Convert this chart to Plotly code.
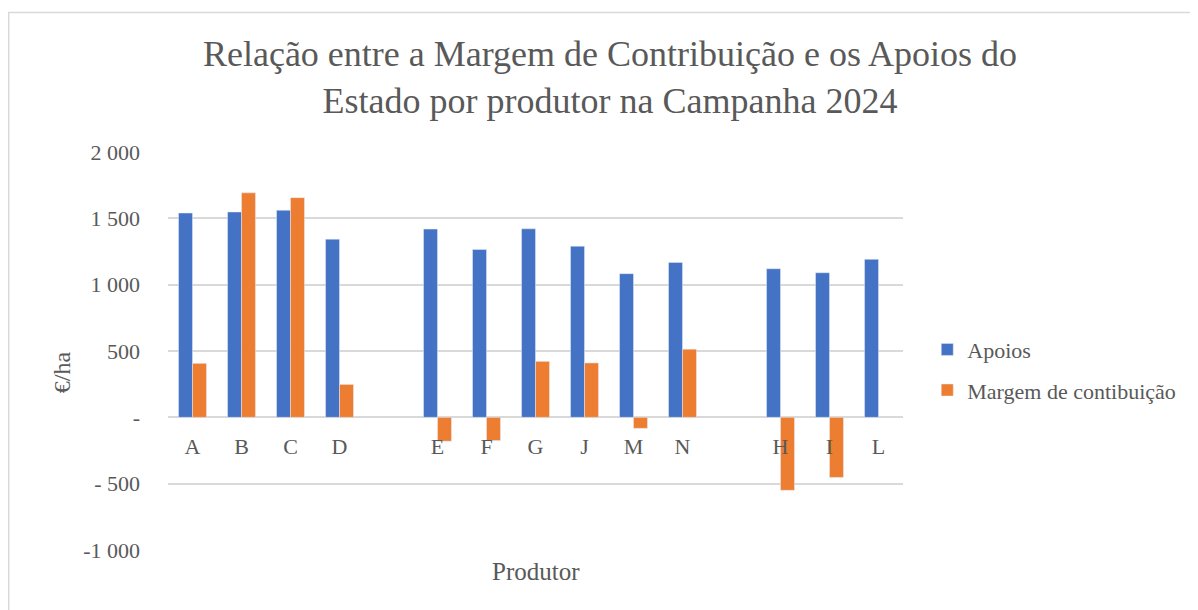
import plotly.graph_objects as go

# Producers (blank entries are the gaps between the three groups)
produtores = ["A", "B", "C", "D", " ", "E", "F", "G", "J", "M", "N", "  ", "H", "I", "L"]

apoios = [1540, 1548, 1561, 1343, None, 1419, 1265, 1421, 1290, 1083, 1168, None, 1120, 1090, 1191]
margem = [407, 1692, 1656, 248, None, -180, -175, 422, 410, -83, 514, None, -550, -453, None]

y_ticks = [2000, 1500, 1000, 500, 0, -500, -1000]
y_tick_labels = ["2 000", "1 500", "1 000", "500", "-", "- 500", "-1 000"]

grey = "#595959"
font_family = "Liberation Serif, Times New Roman, serif"

fig = go.Figure()
fig.add_trace(go.Bar(x=produtores, y=apoios, name="Apoios", marker_color="#4472C4",
                     legendgroup="a"))
fig.add_trace(go.Bar(x=produtores, y=margem, name="Margem de contibuição", marker_color="#ED7D31",
                     legendgroup="b"))

# page body has an 8px margin, so the figure is a bit smaller than the window
fig.update_layout(
    width=1190,
    height=602,
    margin=dict(l=160, r=295, t=144, b=60),
    paper_bgcolor="white",
    plot_bgcolor="white",
    font=dict(family=font_family, color=grey, size=22),
    barmode="group",
    bargap=0.43,
    bargroupgap=0,
    title=dict(
        text="Relação entre a Margem de Contribuição e os Apoios do<br>Estado por produtor na Campanha 2024",
        x=602 / 1190,
        xanchor="center",
        y=1 - 58 / 602,
        yanchor="middle",
        font=dict(size=36, color=grey, family=font_family),
    ),
    legend=dict(
        x=1.033,
        y=0.452,
        xanchor="left",
        yanchor="middle",
        font=dict(size=22),
        tracegroupgap=9,
        itemwidth=30,
    ),
    showlegend=True,
)

fig.update_yaxes(
    range=[-1000, 2000],
    tickvals=y_ticks,
    ticktext=y_tick_labels,
    showgrid=True,
    gridcolor="#d9d9d9",
    gridwidth=1.5,
    zeroline=False,
    showline=False,
    ticks="",
    ticklabelstandoff=27,
    tickfont=dict(size=22),
)

fig.update_xaxes(
    type="category",
    categoryorder="array",
    categoryarray=produtores,
    anchor="free",
    position=1 / 3,
    showline=False,
    showgrid=False,
    ticks="",
    ticklabelstandoff=14,
    tickfont=dict(size=22),
)

# axis titles as annotations (Excel style)
fig.add_annotation(text="€/ha", xref="paper", yref="paper", x=-0.144, y=0.447,
                   xanchor="center", yanchor="middle",
                   showarrow=False, textangle=-90, font=dict(size=24, color=grey))
fig.add_annotation(text="Produtor", xref="paper", yref="paper", x=0.5007, y=-0.053,
                   xanchor="center", yanchor="middle",
                   showarrow=False, font=dict(size=25, color=grey))

# chart area border
fig.add_shape(type="rect", xref="paper", yref="paper",
              x0=(8.7 - 168) / 735, x1=(1215 - 168) / 735,
              y0=(550 - 630) / 398, y1=(550 - 12.5) / 398,
              line=dict(color="#d9d9d9", width=1.5), fillcolor="rgba(0,0,0,0)", layer="below")

fig.write_html("out.html")
